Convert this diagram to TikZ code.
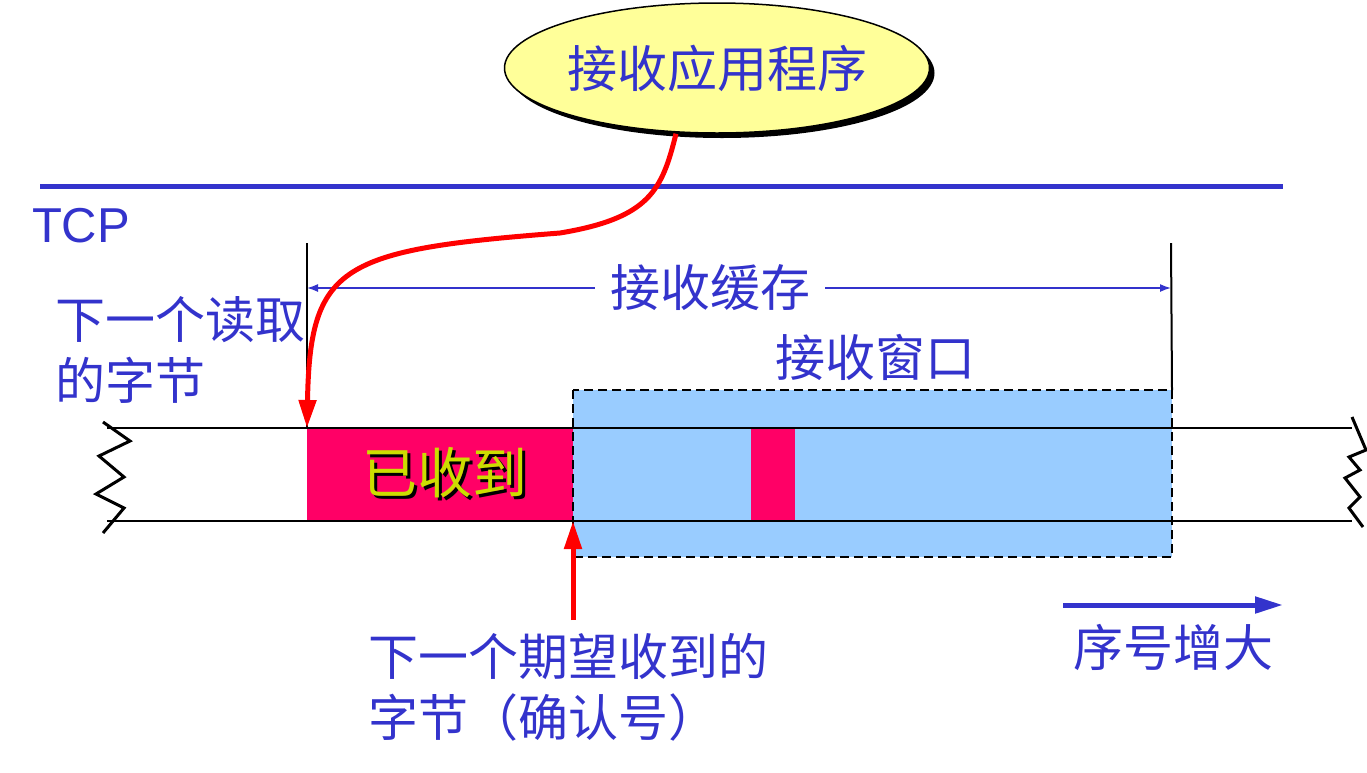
\documentclass[tikz,border=0pt]{standalone}
\usepackage{fontspec}
\setmainfont{Noto Sans CJK SC}
\newfontfamily\latinsf{Liberation Sans}
\usetikzlibrary{positioning,arrows.meta,shadows,shapes.geometric}
\definecolor{tcpblue}{HTML}{3333CC}
\definecolor{appyellow}{HTML}{FFFF99}
\definecolor{gotred}{HTML}{FF0066}
\definecolor{winblue}{HTML}{99CCFF}
\definecolor{gotgreen}{HTML}{CCDD00}

\begin{document}
\begin{tikzpicture}[x=1pt,y=-1pt,
  txt/.style={text=tcpblue,font=\fontsize{50}{61}\selectfont,inner sep=0pt},
  block/.style={anchor=north west,inner sep=0pt,outer sep=0pt},
  redarrow/.style={-{Triangle[length=28pt,width=17pt]},red,line width=5pt},
  thinline/.style={black,line width=2pt}]
  \useasboundingbox (0,0) rectangle (1367,772);

  % application
  \node[ellipse,draw=black,line width=1.5pt,fill=appyellow,minimum width=425pt,minimum height=130pt,
        drop shadow={shadow xshift=5pt,shadow yshift=-5pt,fill=black,opacity=1},
        txt] (app) at (717,68) {接收应用程序};

  % TCP layer
  \coordinate (tcpL) at (40,186);
  \coordinate (tcpR) at (1283,186);
  \draw[tcpblue,line width=5pt] (tcpL) -- (tcpR);
  \node[txt,font=\latinsf\fontsize{49}{60}\selectfont] (tcp) at (81,226) {TCP};

  % buffer and window
  \node[block,fill=winblue,minimum width=599pt,minimum height=167pt] (win) at (573,390) {};
  \node[block,fill=gotred,minimum width=266pt,minimum height=93pt] (got) at (307,428) {};
  \node[block,fill=gotred,minimum width=44pt,minimum height=93pt] (hole) at (751,428) {};
  \draw[black,line width=1.5pt,dash pattern=on 9pt off 5pt] (win.north west) rectangle (win.south east);
  \node[txt,text=black,font=\fontsize{55}{60}\selectfont] (gotS) at (448,476) {已收到};
  \node[txt,text=gotgreen,font=\fontsize{55}{60}\selectfont] (gotT) at (445,473) {已收到};

  \coordinate (topL) at (107,428);
  \coordinate (topR) at (1352,428);
  \coordinate (botL) at (107,521);
  \coordinate (botR) at (1352,521);
  \draw[thinline] (topL) -- (topR);
  \draw[thinline] (botL) -- (botR);
  \draw[black,line width=3pt] (103,422) -- (130,441) -- (99,456) -- (124,477) -- (96,494) -- (124,508) -- (103,533);
  \draw[black,line width=3pt] (1352,417) -- (1366,450) -- (1349,457) -- (1360,470) -- (1345,478) -- (1360,497) -- (1349,508) -- (1363,527);

  % buffer size
  \coordinate (bufTL) at (307,243);
  \coordinate (bufTR) at (1171,243);
  \draw[thinline] (bufTL) -- (got.north west);
  \draw[thinline] (bufTR) -- (win.north east);
  \coordinate (bufL) at (307,288);
  \coordinate (bufR) at (1171,288);
  \draw[{Latex[length=11pt,width=8pt]}-{Latex[length=11pt,width=8pt]},tcpblue,line width=1.5pt] (bufL) -- (bufR);
  \node[txt,fill=white,inner xsep=15pt,inner ysep=2pt] (buf) at (710,288) {接收缓存};

  \node[txt,align=left,anchor=west] (read) at (55,350) {下一个读取\\的字节};
  \node[txt] (winlabel) at (875,357) {接收窗口};

  % pointers
  \draw[redarrow] ([xshift=-41pt]app.south) .. controls (662,190) and (650,218) .. (560,233)
    .. controls (340,250) and (310,265) .. (got.north west);
  \coordinate (ackS) at (573,620);
  \draw[redarrow] (ackS) -- (got.south east);
  \node[txt,align=left,anchor=west] (ack) at (368,687) {下一个期望收到的\\字节（确认号）};

  % sequence direction
  \coordinate (seqL) at (1063,605);
  \coordinate (seqR) at (1283,605);
  \draw[-{Triangle[length=28pt,width=16pt]},tcpblue,line width=5pt] (seqL) -- (seqR);
  \node[txt] (seq) at (1173,647) {序号增大};
\end{tikzpicture}
\end{document}
